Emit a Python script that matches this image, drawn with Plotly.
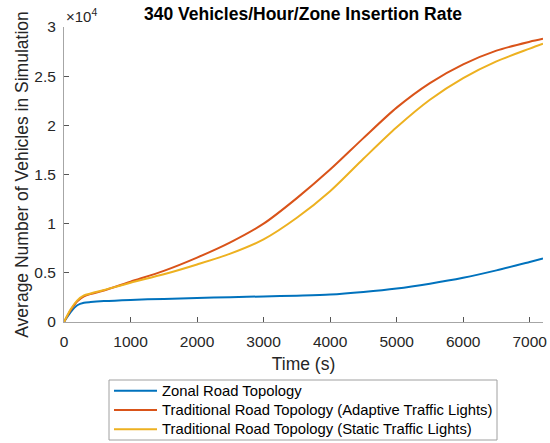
import plotly.graph_objects as go

# --- data (vehicles in simulation vs time) ---
time_s = [0, 100, 200, 300, 400, 600, 1000, 1500, 2000, 2500, 3000, 3500,
          4000, 4500, 5000, 5500, 6000, 6500, 7000, 7200]

zonal = [0, 1000, 1700, 1950, 2030, 2130, 2250, 2350, 2450, 2520, 2600, 2680,
         2790, 3050, 3400, 3900, 4500, 5250, 6100, 6450]

adaptive = [0, 1200, 2100, 2600, 2850, 3200, 4100, 5200, 6550, 8100, 10000, 12600,
            15500, 18700, 21800, 24300, 26200, 27600, 28500, 28800]

static = [0, 1300, 2200, 2700, 2900, 3250, 4000, 4850, 5850, 6950, 8400, 10600,
          13300, 16600, 19800, 22600, 24800, 26500, 27800, 28300]

series_names = ["Zonal Road Topology",
                "Traditional Road Topology (Adaptive Traffic Lights)",
                "Traditional Road Topology (Static Traffic Lights)"]
series_colors = ["#0072BD", "#D95319", "#EDB120"]

x_ticks = [0, 1000, 2000, 3000, 4000, 5000, 6000, 7000]
y_ticks = [0, 5000, 10000, 15000, 20000, 25000, 30000]
y_ticklabels = ["0", "0.5", "1", "1.5", "2", "2.5", "3"]

W, H = 550, 443
ML, MR, MT, MB = 64, 7, 27, 121
PW, PH = W - ML - MR, H - MT - MB


def px2paper(px, py):
    # pixel position on the page -> paper coordinates
    return (px - ML) / PW, (H - MB - py) / PH


fig = go.Figure()
for name, ys, col in zip(series_names, [zonal, adaptive, static], series_colors):
    fig.add_trace(go.Scatter(
        x=time_s, y=ys, name=name, mode="lines",
        line=dict(color=col, width=2, shape="spline", smoothing=0.8)
    ))

axis_grey = "#a6a6a6"
fig.update_layout(
    width=W, height=H,
    margin=dict(l=ML, r=MR, t=MT, b=MB, autoexpand=False),
    paper_bgcolor="white", plot_bgcolor="white",
    showlegend=False,
    font=dict(family="Liberation Sans, Arial", color="#262626", size=15),
    title=dict(text="<b>340 Vehicles/Hour/Zone Insertion Rate</b>",
               x=0.551, xanchor="center", y=0.968, yanchor="middle",
               font=dict(size=17.5, color="black")),
    xaxis=dict(range=[0, 7200], tickvals=x_ticks, ticks="inside", ticklen=5,
               tickcolor="#555555", showline=True, linecolor=axis_grey, linewidth=1,
               showgrid=False, zeroline=False, tickfont=dict(size=15.5),
               automargin=False, ticklabelstandoff=5,
               title=dict(text="Time (s)", font=dict(size=17.5), standoff=9)),
    yaxis=dict(range=[0, 30000], tickvals=y_ticks, ticktext=y_ticklabels,
               ticks="inside", ticklen=5, tickcolor="#555555", showline=True,
               linecolor=axis_grey, linewidth=1, showgrid=False, zeroline=False,
               tickfont=dict(size=15.5), automargin=False, ticklabelstandoff=4,
               title=dict(text="Average Number of Vehicles in Simulation",
                          font=dict(size=17.5), standoff=1)),
)

fig.add_annotation(text="×10<sup>4</sup>", xref="paper", yref="paper",
                   x=0.0, y=1.0, xanchor="left", yanchor="bottom", yshift=0,
                   showarrow=False, font=dict(size=15, color="#262626"))

# legend box drawn by hand (MATLAB-style, tight rows)
x0, y0 = px2paper(109, 380)
x1, y1 = px2paper(497, 440)
fig.add_shape(type="rect", xref="paper", yref="paper", x0=x0, y0=y0, x1=x1, y1=y1,
              line=dict(color="#a0a0a0", width=1), fillcolor="white")
for i, (name, col) in enumerate(zip(series_names, series_colors)):
    row_y = 390.7 + i * 19.3
    lx0, ly = px2paper(114, row_y)
    lx1, _ = px2paper(157, row_y)
    fig.add_shape(type="line", xref="paper", yref="paper", x0=lx0, y0=ly, x1=lx1, y1=ly,
                  line=dict(color=col, width=2))
    tx, _ = px2paper(160, row_y)
    fig.add_annotation(text=name, xref="paper", yref="paper", x=tx, y=ly,
                       xanchor="left", yanchor="middle", showarrow=False,
                       font=dict(size=14.8, color="black"))

fig.write_html("out.html", config={"displayModeBar": False},
               post_script="document.body.style.margin='0';")
